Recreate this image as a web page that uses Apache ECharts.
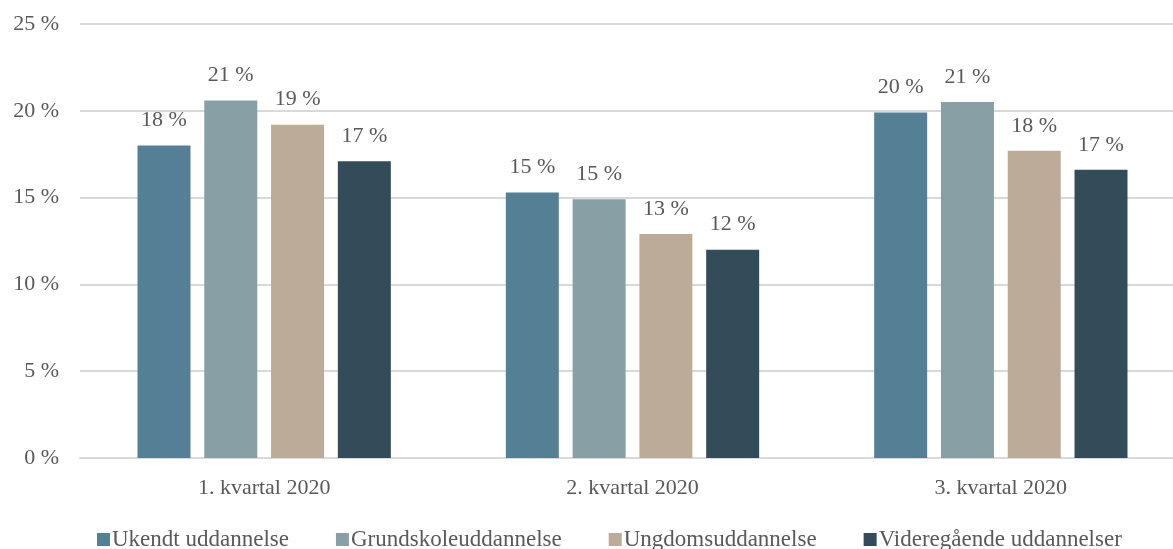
<!DOCTYPE html>
<html>
<head>
<meta charset="utf-8">
<script src="https://cdn.jsdelivr.net/npm/echarts@6/dist/echarts.min.js"></script>
<style>
  html, body { margin: 0; padding: 0; background: #fff; }
  #main { width: 1173px; height: 549px; }
</style>
</head>
<body>
<div id="main"></div>
<script>
// kvartaler
var categories = ['1. kvartal 2020', '2. kvartal 2020', '3. kvartal 2020'];
var seriesNames = ['Ukendt uddannelse', 'Grundskoleuddannelse', 'Ungdomsuddannelse', 'Videregående uddannelser'];
// andel i procent
var ukendt = [18.0, 15.3, 19.9];
var grundskole = [20.6, 14.9, 20.5];
var ungdom = [19.2, 12.9, 17.7];
var videregaaende = [17.1, 12.0, 16.6];
var yTicks = [0, 5, 10, 15, 20, 25];

var colors = ['#557f94', '#889fa6', '#bcab99', '#344b59'];
var font = '"Liberation Serif", "DejaVu Serif", serif';
var textColor = '#595959';

var chart = echarts.init(document.getElementById('main'), null, { renderer: 'canvas' });

function makeSeries(name, data, i) {
  return {
    name: name,
    type: 'bar',
    data: data,
    barWidth: 53,
    barGap: '26%',
    itemStyle: { color: colors[i] },
    label: {
      show: true,
      position: 'top',
      distance: 14,
      fontFamily: font,
      fontSize: 22,
      color: textColor,
      formatter: function (p) { return Math.round(p.value) + ' %'; }
    }
  };
}

var option = {
  animation: false,
  textStyle: { fontFamily: font },
  // plotområdet går lidt ud over højre kant i originalen
  grid: { left: 80, right: -12, top: 24, bottom: 91, containLabel: false, outerBoundsMode: 'none' },
  legend: {
    data: seriesNames,
    top: 523,
    left: 92,
    itemWidth: 13,
    itemHeight: 13,
    itemGap: 47,
    icon: 'rect',
    textStyle: { fontFamily: font, fontSize: 23, color: textColor, padding: [0, 0, 0, -3] }
  },
  xAxis: {
    type: 'category',
    data: categories,
    axisLine: { show: true, lineStyle: { color: '#d9d9d9', width: 2 } },
    axisTick: { show: false },
    axisLabel: { fontFamily: font, fontSize: 22, color: textColor, margin: 19 }
  },
  yAxis: {
    type: 'value',
    min: yTicks[0],
    max: yTicks[yTicks.length - 1],
    interval: 5,
    axisLine: { show: false },
    axisTick: { show: false },
    splitLine: { lineStyle: { color: '#d9d9d9', width: 2 } },
    axisLabel: { fontFamily: font, fontSize: 22, color: textColor, margin: 21, formatter: '{value} %' }
  },
  series: [
    makeSeries(seriesNames[0], ukendt, 0),
    makeSeries(seriesNames[1], grundskole, 1),
    makeSeries(seriesNames[2], ungdom, 2),
    makeSeries(seriesNames[3], videregaaende, 3)
  ]
};

chart.setOption(option);
</script>
</body>
</html>
